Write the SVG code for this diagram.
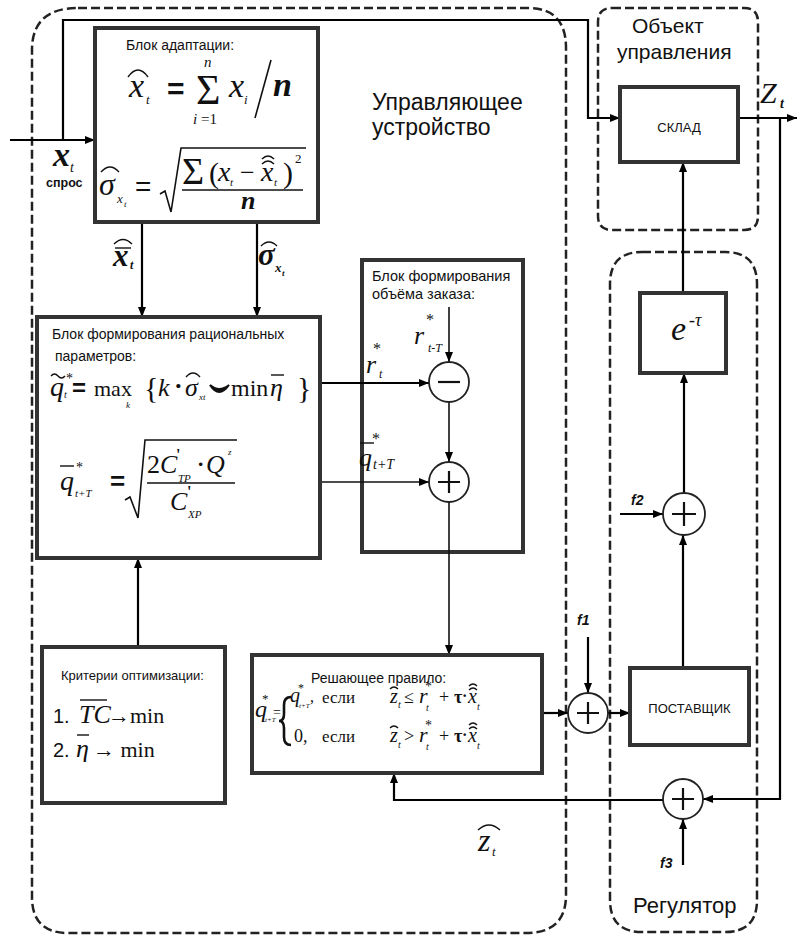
<svg xmlns="http://www.w3.org/2000/svg" width="799" height="936" viewBox="0 0 799 936">
<style>
.blk{fill:#fff;stroke:#333;stroke-width:4}
.dash{fill:none;stroke:#222;stroke-width:2.5;stroke-dasharray:9 4}
.ln{fill:none;stroke:#000;stroke-width:2.2}
.th{fill:none;stroke:#111;stroke-width:1.6}
.acc{fill:none;stroke:#111;stroke-width:1.4}
.circ{fill:#fff;stroke:#222;stroke-width:1.8}
.sg{stroke:#111;stroke-width:2.2}
.sa{font-family:"Liberation Sans",Arial,sans-serif;fill:#111}
.mi{font-family:"Liberation Serif","Times New Roman",serif;font-style:italic;fill:#111}
.mr{font-family:"Liberation Serif","Times New Roman",serif;fill:#111}
.fl{font-family:"Liberation Sans",Arial,sans-serif;font-weight:bold;font-style:italic;font-size:14px;fill:#111}
</style>
<defs>
<marker id="ah" viewBox="0 0 10 8" refX="10" refY="4" markerWidth="10" markerHeight="8" markerUnits="userSpaceOnUse" orient="auto">
<path d="M0,0 L10,4 L0,8 Z" fill="#000"/>
</marker>
</defs>

<g id="containers">
<path class="dash" d="M78,8 H528 Q566,8 566,48 V895 Q566,933 526,933 H68 Q32,933 32,897 V50 Q32,8 78,8 Z"/>
<path class="dash" d="M612,8 H744 Q758,8 758,22 V216 Q758,230 744,230 H612 Q598,230 598,216 V22 Q598,8 612,8 Z"/>
<path class="dash" d="M642,252 H725 Q757,252 757,284 V900 Q757,932 725,932 H642 Q610,932 610,900 V284 Q610,252 642,252 Z"/>
<text class="sa" x="372" y="110" font-size="23">Управляющее</text>
<text class="sa" x="372" y="135" font-size="23">устройство</text>
<text class="sa" x="632" y="33" font-size="21">Объект</text>
<text class="sa" x="617" y="59" font-size="21">управления</text>
<text class="sa" x="633" y="913" font-size="22">Регулятор</text>
</g>

<g id="block-order">
<rect class="blk" x="362" y="260" width="161" height="292"/>
<text class="sa" x="372" y="281" font-size="14.5">Блок формирования</text>
<text class="sa" x="372" y="299" font-size="14.5">объёма заказа:</text>
</g>

<g id="connectors">
<path class="ln" d="M10,140 H95" marker-end="url(#ah)"/>
<path class="ln" d="M63,140 V20 H588 V118 H620" marker-end="url(#ah)"/>
<path class="ln" d="M142,222 V317" marker-end="url(#ah)"/>
<path class="ln" d="M257,222 V317" marker-end="url(#ah)"/>
<path class="ln" d="M320,383 H429" marker-end="url(#ah)"/>
<path class="th" d="M320,482 H429" marker-end="url(#ah)"/>
<path class="th" d="M449,307 V362" marker-end="url(#ah)"/>
<path class="th" d="M449,402 V462" marker-end="url(#ah)"/>
<path class="th" d="M449,502 V655" marker-end="url(#ah)"/>
<path class="ln" d="M138,647 V558" marker-end="url(#ah)"/>
<path class="ln" d="M542,713 H568" marker-end="url(#ah)"/>
<path class="ln" d="M588,637 V693" marker-end="url(#ah)"/>
<path class="ln" d="M608,713 H630" marker-end="url(#ah)"/>
<path class="ln" d="M683,668 V535" marker-end="url(#ah)"/>
<path class="ln" d="M620,514 H663" marker-end="url(#ah)"/>
<path class="ln" d="M684,493 V373" marker-end="url(#ah)"/>
<path class="ln" d="M683,293 V162" marker-end="url(#ah)"/>
<path class="ln" d="M738,118 H797" marker-end="url(#ah)"/>
<path class="ln" d="M780,118 V799 H703" marker-end="url(#ah)"/>
<path class="ln" d="M683,865 V819" marker-end="url(#ah)"/>
<path class="ln" d="M663,800 H394 V773" marker-end="url(#ah)"/>
<text class="mi" x="53" y="166" font-size="34" font-weight="bold">x</text>
<text class="mi" x="70" y="172" font-size="14">t</text>
<text class="sa" x="46" y="187" font-size="12.5" font-weight="bold">спрос</text>
<text class="mi" x="113" y="266" font-size="31" font-weight="bold">x</text>
<path class="acc" d="M115,248 H131"/>
<path class="acc" d="M114,244 Q123,235 132,244"/>
<text class="mi" x="130" y="269" font-size="12" font-weight="bold">t</text>
<text class="mi" x="258" y="265" font-size="31" font-weight="bold">σ</text>
<path class="acc" d="M261,246 Q269,238 277,246"/>
<text class="mi" x="275" y="272" font-size="13" font-weight="bold">x</text>
<text class="mi" x="282" y="276" font-size="9" font-weight="bold">t</text>
<text class="mi" x="414" y="344" font-size="26">r</text>
<text class="mr" x="426" y="325" font-size="16">*</text>
<text class="mi" x="428" y="352" font-size="12">t-T</text>
<text class="mi" x="366" y="373" font-size="26">r</text>
<text class="mr" x="373" y="354" font-size="16">*</text>
<text class="mi" x="379" y="378" font-size="12">t</text>
<text class="mi" x="359" y="466" font-size="26">q</text>
<path class="acc" d="M360,443 H374"/>
<text class="mr" x="372" y="444" font-size="16">*</text>
<text class="mi" x="373" y="469" font-size="14">t+T</text>
<text class="fl" x="577" y="625">f1</text>
<text class="fl" x="631" y="505">f2</text>
<text class="fl" x="660" y="868" font-size="12">f3</text>
<text class="mi" x="760" y="103" font-size="30">Z</text>
<text class="mi" x="780" y="108" font-size="14" font-weight="bold">t</text>
<text class="mi" x="478" y="851" font-size="32">z</text>
<path class="acc" d="M478,830 Q489,820 500,830"/>
<text class="mi" x="492" y="856" font-size="13">t</text>
</g>

<g id="block-adaptation">
<rect class="blk" x="95" y="28" width="223" height="194"/>
<text class="sa" x="126" y="50" font-size="14">Блок адаптации:</text>
<text class="mi" x="129" y="97" font-size="34">x</text>
<path class="acc" d="M128,77 Q138,63 148,77"/>
<text class="mi" x="146" y="104" font-size="13">t</text>
<text class="sa" x="167" y="99" font-size="30" font-weight="bold">=</text>
<text class="mr" x="196" y="104" font-size="42">Σ</text>
<text class="mi" x="204" y="67" font-size="15">n</text>
<text class="mi" x="193" y="124" font-size="15">i <tspan font-style="normal">=1</tspan></text>
<text class="mi" x="229" y="97" font-size="34">x</text>
<text class="mi" x="244" y="104" font-size="13">i</text>
<path class="th" d="M255,118 L271,60"/>
<text class="mi" x="273" y="96" font-size="34" font-weight="bold">n</text>
<text class="mi" x="99" y="195" font-size="32">σ</text>
<path class="acc" d="M101,172 Q110,162 119,172"/>
<text class="mi" x="117" y="203" font-size="13">x</text>
<text class="mi" x="124" y="207" font-size="9">t</text>
<text class="sa" x="135" y="196" font-size="28">=</text>
<path class="th" d="M160,194 L165,191 L171,212 L181,148 H306"/>
<text class="mr" x="182" y="184" font-size="38">Σ</text>
<text class="mr" x="209" y="183" font-size="30">(</text>
<text class="mi" x="218" y="181" font-size="28">x</text>
<text class="mi" x="230" y="186" font-size="11">t</text>
<text class="mr" x="240" y="181" font-size="26">−</text>
<text class="mi" x="261" y="181" font-size="28">x</text>
<path class="acc" d="M262,164 Q268,158 274,164 M262,159 Q268,153 274,159"/>
<text class="mi" x="274" y="186" font-size="11">t</text>
<text class="mr" x="283" y="183" font-size="30">)</text>
<text class="mr" x="295" y="163" font-size="13">2</text>
<path class="th" d="M182,190 H303"/>
<text class="mi" x="241" y="209" font-size="26" font-weight="bold">n</text>
</g>

<g id="block-rational">
<rect class="blk" x="37" y="317" width="283" height="241"/>
<text class="sa" x="52" y="339" font-size="14">Блок формирования рациональных</text>
<text class="sa" x="55" y="361" font-size="14">параметров:</text>
<text class="mi" x="50" y="396" font-size="28">q</text>
<path class="acc" d="M51,376 q3.5,-4 7,0 t7,0"/>
<text class="mi" x="64" y="398" font-size="10">t</text>
<text class="mr" x="66" y="383" font-size="14">*</text>
<text class="sa" x="72" y="396" font-size="24" font-weight="bold">=</text>
<text class="mr" x="94" y="396" font-size="22">max</text>
<text class="mi" x="126" y="408" font-size="9">k</text>
<text class="mr" x="144" y="398" font-size="30">{</text>
<text class="mi" x="158" y="396" font-size="26">k</text>
<text class="mr" x="174" y="394" font-size="26" font-weight="bold">·</text>
<text class="mi" x="185" y="396" font-size="26">σ</text>
<path class="acc" d="M186,377 Q193,369 200,377"/>
<text class="mi" x="199" y="400" font-size="9">xt</text>
<path d="M210,385 Q219,399 229,385 Q219,393 210,385 Z" fill="#111" stroke="#111" stroke-width="2"/>
<text class="mr" x="231" y="396" font-size="24">min</text>
<text class="mi" x="270" y="396" font-size="26">η</text>
<path class="acc" d="M271,375 H284"/>
<text class="mr" x="297" y="398" font-size="30">}</text>
<text class="mi" x="60" y="490" font-size="28">q</text>
<path class="acc" d="M60,466 H74"/>
<text class="mr" x="76" y="472" font-size="14">*</text>
<text class="mi" x="75" y="497" font-size="11">t+T</text>
<text class="sa" x="110" y="490" font-size="26" font-weight="bold">=</text>
<path class="th" d="M125,500 L130,497 L138,518 L145,440 H237"/>
<text class="mi" x="147" y="473" font-size="26"><tspan font-style="normal">2</tspan>C</text>
<text class="mr" x="176" y="460" font-size="16" font-weight="bold">'</text>
<text class="mi" x="178" y="482" font-size="11">TP</text>
<text class="mr" x="197" y="471" font-size="22" font-weight="bold">·</text>
<text class="mi" x="206" y="473" font-size="26">Q</text>
<text class="mi" x="228" y="455" font-size="9">z</text>
<path class="th" d="M147,483 H235"/>
<text class="mi" x="170" y="510" font-size="26">C</text>
<text class="mr" x="187" y="497" font-size="16" font-weight="bold">'</text>
<text class="mi" x="188" y="518" font-size="11">XP</text>
</g>

<g id="sum-minus">
<circle class="circ" cx="449" cy="382" r="20"/>
<path class="sg" d="M438,382 H460"/>
</g>
<g id="sum-plus">
<circle class="circ" cx="449" cy="482" r="20"/>
<path class="sg" d="M438,482 H460 M449,471 V493"/>
</g>

<g id="block-criteria">
<rect class="blk" x="42" y="647" width="183" height="156"/>
<text class="sa" x="61" y="680" font-size="13">Критерии оптимизации:</text>
<text class="sa" x="53" y="723" font-size="20">1.</text>
<text class="mi" x="79" y="723" font-size="26">TC</text>
<path class="acc" d="M80,700 H107"/>
<text class="mr" x="108" y="723" font-size="22">→min</text>
<text class="sa" x="53" y="757" font-size="20">2.</text>
<text class="mi" x="76" y="757" font-size="26">η</text>
<path class="acc" d="M77,735 H89"/>
<text class="mr" x="93" y="757" font-size="22">→ min</text>
</g>

<g id="block-decision">
<rect class="blk" x="252" y="655" width="290" height="118"/>
<text class="sa" x="311" y="683" font-size="14">Решающее правило:</text>
<text class="mi" x="255" y="717" font-size="24">q</text>
<text class="mr" x="262" y="703" font-size="13">*</text>
<text class="mi" x="265" y="722" font-size="7">t+T</text>
<text class="mr" x="273" y="717" font-size="14">=</text>
<path d="M291,697 Q284,697 284,705 V714 Q284,721 279,721 Q284,721 284,728 V737 Q284,745 291,745" fill="none" stroke="#111" stroke-width="2.6"/>
<text class="mi" x="290" y="702" font-size="20">q</text>
<text class="mr" x="298" y="692" font-size="12">*</text>
<text class="mi" x="299" y="708" font-size="7">t+T</text>
<text class="mr" x="310" y="702" font-size="16">,</text>
<text class="mr" x="322" y="703" font-size="17">если</text>
<text class="mi" x="390" y="703" font-size="20">z</text>
<path class="acc" d="M390,689 Q394,685 398,689"/>
<text class="mi" x="398" y="708" font-size="10">t</text>
<text class="mr" x="404" y="703" font-size="18">≤</text>
<text class="mi" x="419" y="703" font-size="22">r</text>
<text class="mr" x="425" y="691" font-size="14">*</text>
<text class="mi" x="426" y="711" font-size="10">t</text>
<text class="mr" x="439" y="703" font-size="18">+</text>
<text class="mr" x="454" y="703" font-size="18" font-weight="bold">τ</text>
<text class="mr" x="462" y="701" font-size="16" font-weight="bold">·</text>
<text class="mi" x="468" y="703" font-size="20">x</text>
<path class="acc" d="M469,690 Q473,686 477,690 M469,686 Q473,682 477,686"/>
<text class="mi" x="477" y="710" font-size="10">t</text>
<text class="mr" x="294" y="742" font-size="18">0,</text>
<text class="mr" x="322" y="742" font-size="17">если</text>
<text class="mi" x="390" y="742" font-size="20">z</text>
<path class="acc" d="M390,728 Q394,724 398,728"/>
<text class="mi" x="398" y="748" font-size="10">t</text>
<text class="mr" x="404" y="742" font-size="18">&gt;</text>
<text class="mi" x="419" y="742" font-size="22">r</text>
<text class="mr" x="425" y="730" font-size="14">*</text>
<text class="mi" x="426" y="750" font-size="10">t</text>
<text class="mr" x="439" y="742" font-size="18">+</text>
<text class="mr" x="454" y="742" font-size="18" font-weight="bold">τ</text>
<text class="mr" x="462" y="740" font-size="16" font-weight="bold">·</text>
<text class="mi" x="468" y="742" font-size="20">x</text>
<path class="acc" d="M469,729 Q473,725 477,729 M469,725 Q473,721 477,725"/>
<text class="mi" x="477" y="749" font-size="10">t</text>
</g>

<g id="sum-f1">
<circle class="circ" cx="588" cy="713" r="20"/>
<path class="sg" d="M577,713 H599 M588,702 V724"/>
</g>

<g id="block-supplier">
<rect class="blk" x="630" y="668" width="119" height="77"/>
<text class="sa" x="689.5" y="713" font-size="13" text-anchor="middle">ПОСТАВЩИК</text>
</g>

<g id="sum-f2">
<circle class="circ" cx="684" cy="514" r="21"/>
<path class="sg" d="M672,514 H696 M684,502 V526"/>
</g>

<g id="block-delay">
<rect class="blk" x="640" y="293" width="86" height="80"/>
<text class="mi" x="671" y="340" font-size="34">e</text>
<text class="mi" x="689" y="326" font-size="18">-τ</text>
</g>

<g id="block-warehouse">
<rect class="blk" x="620" y="87" width="118" height="75"/>
<text class="sa" x="679" y="132" font-size="13" text-anchor="middle">СКЛАД</text>
</g>

<g id="sum-f3">
<circle class="circ" cx="683" cy="799" r="20"/>
<path class="sg" d="M672,799 H694 M683,788 V810"/>
</g>
</svg>
